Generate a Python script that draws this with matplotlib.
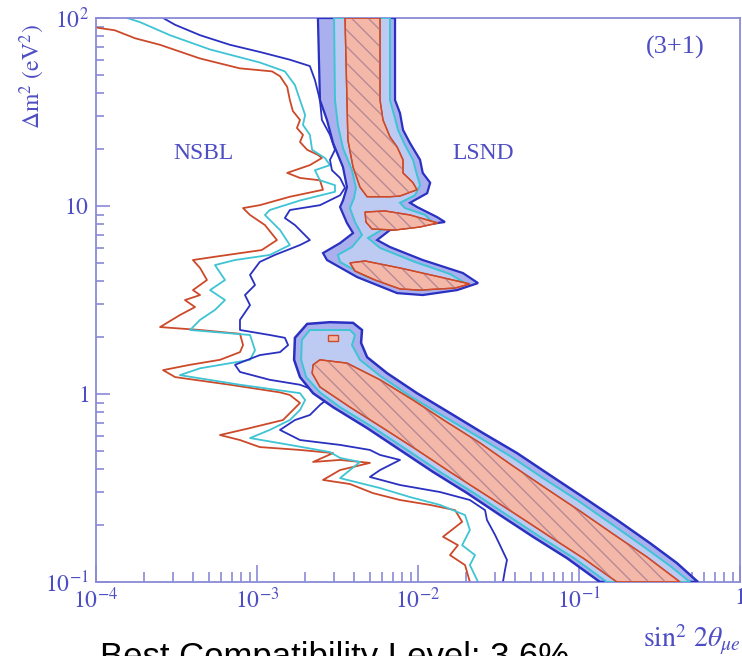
import matplotlib.pyplot as plt
from matplotlib.ticker import FixedLocator, FixedFormatter, LogLocator, NullFormatter

plt.rcParams['mathtext.fontset'] = 'stix'
plt.rcParams['font.family'] = ['Liberation Serif', 'DejaVu Serif']
plt.rcParams['hatch.linewidth'] = 1.0

# ---- NSBL exclusion curves (sin^2 2theta, dm^2 in eV^2) ----
nsbl_red_x = [1.0e-4, 1.31e-4, 1.75e-4, 2.5e-4, 4.4e-4, 7.8e-4, 1.24e-3, 1.39e-3, 1.54e-3, 1.60e-3,
              1.67e-3, 1.85e-3, 1.77e-3, 1.93e-3, 1.85e-3, 2.05e-3, 2.39e-3, 2.53e-3, 2.13e-3, 1.54e-3,
              1.85e-3, 2.46e-3, 2.57e-3, 1.60e-3, 1.04e-3, 8.19e-4, 9.05e-4, 1.12e-3, 1.33e-3, 1.07e-3,
              5.89e-4, 4.0e-4, 4.43e-4, 4.89e-4, 4.0e-4, 4.43e-4, 3.57e-4, 4.12e-4, 3.32e-4, 2.5e-4,
              4.43e-4, 7.84e-4, 8.19e-4, 7.84e-4, 5.89e-4, 3.84e-4, 2.61e-4, 3.10e-4, 6.80e-4, 1.39e-3,
              1.60e-3, 1.85e-3, 1.45e-3, 9.05e-4, 5.89e-4, 7.84e-4, 1.04e-3, 1.85e-3, 2.97e-3, 2.23e-3,
              3.28e-3, 5.03e-3, 3.28e-3, 2.57e-3, 3.78e-3, 5.25e-3, 7.73e-3, 1.19e-2, 1.70e-2, 1.88e-2,
              1.43e-2, 1.77e-2, 1.58e-2, 1.96e-2, 2.10e-2]
nsbl_red_y = [89, 86, 78, 72, 61, 54, 52, 49, 43, 36.6,
              32, 28.7, 26, 23.9, 21.9, 19.9, 18.7, 18.0, 16.5, 15.0,
              14.1, 13.7, 12.2, 11.2, 10.1, 9.75, 8.96, 7.92, 6.59, 5.83,
              5.42, 5.16, 4.68, 4.04, 3.57, 3.36, 3.16, 2.90, 2.63, 2.27,
              2.19, 2.09, 1.82, 1.67, 1.52, 1.43, 1.34, 1.23, 1.12, 1.02,
              0.988, 0.896, 0.727, 0.659, 0.605, 0.569, 0.522, 0.504, 0.485, 0.435,
              0.446, 0.430, 0.394, 0.349, 0.332, 0.297, 0.273, 0.257, 0.241, 0.209,
              0.174, 0.157, 0.139, 0.123, 0.1]

nsbl_cyan_x = [1.56e-4, 1.88e-4, 2.88e-4, 5.11e-4, 1.04e-3, 1.49e-3, 1.72e-3, 1.85e-3, 1.99e-3, 1.93e-3,
               2.13e-3, 2.20e-3, 2.64e-3, 2.84e-3, 2.29e-3, 2.46e-3, 3.05e-3, 3.05e-3, 1.85e-3, 1.20e-3,
               1.12e-3, 1.39e-3, 1.60e-3, 1.20e-3, 7.30e-4, 5.48e-4, 6.33e-4, 5.11e-4, 6.33e-4, 5.48e-4,
               4.43e-4, 3.84e-4, 9.05e-4, 9.72e-4, 9.05e-4, 4.43e-4, 3.32e-4, 7.84e-4, 1.85e-3, 1.99e-3,
               1.85e-3, 1.60e-3, 1.20e-3, 9.05e-4, 1.60e-3, 2.84e-3, 3.28e-3, 4.36e-3, 3.78e-3, 3.28e-3,
               5.81e-3, 8.92e-3, 1.37e-2, 1.96e-2, 2.10e-2, 1.88e-2, 2.26e-2, 2.10e-2, 2.36e-2]
nsbl_cyan_y = [100, 95, 81, 68, 58, 52, 44, 36.6, 30.5, 27,
               23.9, 19.9, 18.0, 16.5, 15.5, 13.7, 12.9, 11.9, 10.7, 9.52,
               8.96, 7.45, 6.20, 5.49, 5.16, 4.85, 4.04, 3.57, 3.16, 2.80,
               2.48, 2.19, 2.06, 1.71, 1.52, 1.37, 1.26, 1.12, 1.01, 0.929,
               0.822, 0.727, 0.644, 0.583, 0.536, 0.491, 0.457, 0.435, 0.394, 0.357,
               0.316, 0.283, 0.257, 0.227, 0.189, 0.157, 0.139, 0.123, 0.1]

nsbl_blue_x = [2.61e-4, 3.10e-4, 4.43e-4, 6.80e-4, 1.04e-3, 1.60e-3, 2.13e-3, 2.29e-3, 2.46e-3, 2.53e-3,
               2.84e-3, 3.05e-3, 2.84e-3, 2.92e-3, 3.28e-3, 3.52e-3, 3.28e-3, 2.46e-3, 1.60e-3, 1.49e-3,
               1.72e-3, 2.13e-3, 1.85e-3, 1.29e-3, 1.04e-3, 9.05e-4, 9.72e-4, 8.42e-4, 9.05e-4, 7.84e-4,
               7.84e-4, 1.20e-3, 1.49e-3, 1.56e-3, 1.39e-3, 1.04e-3, 7.30e-4, 7.84e-4, 1.20e-3, 1.85e-3,
               2.46e-3, 2.84e-3, 2.46e-3, 2.13e-3, 1.72e-3, 1.39e-3, 1.85e-3, 3.28e-3, 5.03e-3, 5.81e-3,
               7.73e-3, 5.81e-3, 5.03e-3, 7.73e-3, 1.37e-2, 2.10e-2, 2.61e-2, 2.68e-2, 3.01e-2, 3.23e-2,
               3.57e-2, 3.47e-2, 3.37e-2]
nsbl_blue_y = [100, 92, 81, 72, 66, 60, 55.5, 46.8, 36.6, 28.7,
               23.9, 19.9, 17.6, 15.5, 14.1, 12.5, 11.4, 10.1, 9.52, 8.63,
               7.92, 6.59, 6.20, 5.49, 5.04, 4.30, 3.80, 3.36, 2.97, 2.48,
               2.19, 2.06, 1.99, 1.82, 1.67, 1.61, 1.43, 1.31, 1.19, 1.12,
               1.02, 0.964, 0.874, 0.773, 0.727, 0.644, 0.569, 0.536, 0.504, 0.474,
               0.446, 0.394, 0.362, 0.328, 0.301, 0.273, 0.241, 0.214, 0.178, 0.157,
               0.131, 0.116, 0.1]

# ---- LSND allowed regions, upper island (dm^2 > 3 eV^2) ----
lsnd_hi_blue_x = [2.39e-3, 7.20e-3, 7.20e-3, 7.73e-3, 8.07e-3, 8.92e-3, 1.03e-2, 1.07e-2, 1.19e-2, 1.14e-2,
                  8.92e-3, 9.86e-3, 1.31e-2, 1.47e-2, 1.07e-2, 6.70e-3, 5.57e-3, 6.70e-3, 1.07e-2, 1.90e-2,
                  2.36e-2, 1.75e-2, 1.07e-2, 7.42e-3, 4.18e-3, 2.72e-3, 2.57e-3, 3.28e-3, 3.95e-3, 3.62e-3,
                  3.28e-3, 3.42e-3, 3.62e-3, 3.42e-3, 2.97e-3, 2.72e-3, 2.46e-3]
lsnd_hi_blue_y = [100, 100, 36.6, 31.2, 25.4, 21.6, 17.6, 15.0, 13.3, 11.7,
                  10.4, 9.88, 8.74, 8.22, 7.92, 7.45, 6.59, 6.05, 5.16, 4.40,
                  3.89, 3.57, 3.36, 3.44, 4.19, 5.16, 5.62, 6.35, 7.18, 8.12,
                  9.88, 10.7, 12.6, 16.1, 21.6, 28.7, 36.6]

lsnd_hi_cyan_x = [3.01e-3, 6.70e-3, 6.70e-3, 7.10e-3, 7.51e-3, 8.30e-3, 9.31e-3, 9.86e-3, 1.03e-2, 9.57e-3,
                  7.73e-3, 8.30e-3, 1.11e-2, 1.22e-2, 8.92e-3, 6.24e-3, 4.89e-3, 5.81e-3, 9.57e-3, 1.58e-2,
                  1.96e-2, 1.58e-2, 1.03e-2, 7.73e-3, 4.69e-3, 3.28e-3, 3.18e-3, 3.89e-3, 4.49e-3, 4.06e-3,
                  3.78e-3, 4.0e-3, 4.12e-3, 3.89e-3, 3.42e-3, 3.18e-3, 3.05e-3]
lsnd_hi_cyan_y = [100, 100, 36.6, 30.5, 25.4, 21.1, 17.6, 14.6, 12.9, 11.4,
                  10.4, 9.75, 8.96, 8.22, 7.83, 7.64, 6.76, 5.98, 5.04, 4.35,
                  3.89, 3.70, 3.57, 3.66, 4.24, 5.04, 5.49, 6.05, 7.01, 8.22,
                  9.75, 11.0, 12.5, 15.5, 20.3, 27.0, 36.6]

lsnd_hi_red_x = [3.52e-3, 5.81e-3, 5.81e-3, 6.06e-3, 6.70e-3, 7.42e-3, 8.07e-3, 8.07e-3, 9.31e-3, 9.86e-3,
                 7.73e-3, 6.70e-3, 4.83e-3, 4.36e-3, 3.95e-3, 3.67e-3, 3.62e-3]
lsnd_hi_red_y = [100, 100, 36.6, 28.7, 23.3, 20.6, 17.6, 15.0, 13.3, 12.2,
                 11.3, 11.2, 11.2, 12.6, 16.1, 22.4, 36.6]

lsnd_lobe2_x = [4.69e-3, 6.24e-3, 8.92e-3, 1.33e-2, 1.03e-2, 7.20e-3, 5.18e-3, 4.75e-3]
lsnd_lobe2_y = [9.29, 9.41, 8.96, 8.12, 7.73, 7.45, 7.54, 8.22]

lsnd_lobe3_x = [3.78e-3, 4.69e-3, 7.73e-3, 1.37e-2, 2.10e-2, 1.70e-2, 1.03e-2, 7.73e-3, 5.41e-3, 4.06e-3]
lsnd_lobe3_y = [4.98, 5.10, 4.68, 4.19, 3.85, 3.66, 3.57, 3.62, 4.04, 4.51]

# ---- LSND allowed regions, lower band (dm^2 < 2.5 eV^2) ----
lsnd_lo_blue_x = [2.05e-3, 2.84e-3, 3.95e-3, 4.49e-3, 4.43e-3, 4.83e-3, 6.43e-3, 9.86e-3, 1.58e-2, 2.53e-2,
                  4.12e-2, 6.61e-2, 1.06e-1, 1.72e-1, 2.76e-1, 4.06e-1, 5.48e-1, 1.35e-1, 8.42e-2, 5.18e-2,
                  3.23e-2, 2.02e-2, 1.24e-2, 7.73e-3, 4.83e-3, 2.97e-3, 2.23e-3, 1.85e-3, 1.70e-3, 1.72e-3]
lsnd_lo_blue_y = [2.36, 2.41, 2.39, 2.19, 1.87, 1.57, 1.29, 1.01, 0.792, 0.620,
                  0.485, 0.370, 0.283, 0.214, 0.161, 0.126, 0.1, 0.1, 0.134, 0.174,
                  0.227, 0.297, 0.385, 0.504, 0.659, 0.851, 1.01, 1.23, 1.52, 1.99]

lsnd_lo_cyan_x = [2.13e-3, 3.78e-3, 4.06e-3, 3.89e-3, 4.36e-3, 5.81e-3, 8.92e-3, 1.43e-2, 2.32e-2, 3.73e-2,
                  5.98e-2, 9.72e-2, 1.56e-1, 2.50e-1, 3.67e-1, 4.89e-1, 1.49e-1, 9.31e-2, 5.72e-2, 3.57e-2,
                  2.23e-2, 1.37e-2, 8.56e-3, 5.33e-3, 3.28e-3, 2.46e-3, 2.02e-3, 1.88e-3, 1.90e-3]
lsnd_lo_cyan_y = [2.19, 2.19, 2.06, 1.82, 1.52, 1.25, 0.975, 0.764, 0.598, 0.468,
                  0.357, 0.273, 0.206, 0.155, 0.122, 0.1, 0.1, 0.134, 0.174, 0.227,
                  0.297, 0.385, 0.504, 0.659, 0.851, 1.02, 1.23, 1.52, 1.94]

lsnd_lo_red_x = [2.23e-3, 2.46e-3, 3.62e-3, 5.81e-3, 9.31e-3, 1.51e-2, 2.43e-2, 3.89e-2, 6.33e-2, 1.01e-1,
                 1.63e-1, 2.64e-1, 4.24e-1, 1.72e-1, 1.06e-1, 6.61e-2, 4.12e-2, 2.53e-2, 1.58e-2, 9.86e-3,
                 6.06e-3, 3.78e-3, 2.46e-3, 2.20e-3]
lsnd_lo_red_y = [1.43, 1.52, 1.46, 1.19, 0.929, 0.709, 0.549, 0.414, 0.312, 0.239,
                 0.180, 0.136, 0.1, 0.1, 0.134, 0.174, 0.227, 0.297, 0.385, 0.504,
                 0.659, 0.851, 1.09, 1.29]

lsnd_spot_x = [2.76e-3, 3.18e-3, 3.18e-3, 2.76e-3]
lsnd_spot_y = [2.06, 2.06, 1.91, 1.91]

x_ticks = [1e-4, 1e-3, 1e-2, 1e-1, 1]
x_tick_labels = [r'$10^{-4}$', r'$10^{-3}$', r'$10^{-2}$', r'$10^{-1}$', r'$1$']
y_ticks = [0.1, 1, 10, 100]
y_tick_labels = [r'$10^{-1}$', r'$1$', r'$10$', r'$10^{2}$']

dark_blue = '#2a30c0'
cyan = '#3ec4d4'
red_line = '#cc4a2a'
blue_fill = '#aab0ee'
cyan_fill = '#bdcbf3'
red_fill = '#f4b8a8'
hatch_col = '#b88896'
axis_col = '#8a8ad8'
text_col = '#4e4ec4'

fig = plt.figure(figsize=(7.42, 6.56), dpi=100)
ax = fig.add_axes([96 / 742, 1 - 582 / 656, 644 / 742, 564 / 656])
ax.set_xscale('log')
ax.set_yscale('log')


def region(xs, ys, face, edge, lw, z, hatch=None):
    ax.fill(xs, ys, facecolor=face, edgecolor=edge, linewidth=lw, zorder=z)
    if hatch:
        ax.fill(xs, ys, facecolor='none', edgecolor=hatch_col, linewidth=0, hatch=hatch, zorder=z + 0.1)
        ax.fill(xs, ys, facecolor='none', edgecolor=edge, linewidth=lw, zorder=z + 0.2)


# NSBL curves
ax.plot(nsbl_red_x, nsbl_red_y, color=red_line, lw=1.3, zorder=2)
ax.plot(nsbl_cyan_x, nsbl_cyan_y, color=cyan, lw=1.3, zorder=2)
ax.plot(nsbl_blue_x, nsbl_blue_y, color=dark_blue, lw=1.3, zorder=2)

# LSND upper island
region(lsnd_hi_blue_x, lsnd_hi_blue_y, blue_fill, dark_blue, 1.6, 3)
region(lsnd_hi_cyan_x, lsnd_hi_cyan_y, cyan_fill, cyan, 1.4, 4)
region(lsnd_hi_red_x, lsnd_hi_red_y, red_fill, red_line, 1.0, 5, hatch='\\\\')
region(lsnd_lobe2_x, lsnd_lobe2_y, red_fill, red_line, 1.0, 5, hatch='\\\\')
region(lsnd_lobe3_x, lsnd_lobe3_y, red_fill, red_line, 1.0, 5, hatch='\\\\')

# LSND lower band
region(lsnd_lo_blue_x, lsnd_lo_blue_y, blue_fill, dark_blue, 1.8, 3)
region(lsnd_lo_cyan_x, lsnd_lo_cyan_y, cyan_fill, cyan, 1.4, 4)
region(lsnd_lo_red_x, lsnd_lo_red_y, red_fill, red_line, 1.0, 5, hatch='\\\\')
region(lsnd_spot_x, lsnd_spot_y, red_fill, red_line, 1.0, 5)

ax.set_xlim(1e-4, 1)
ax.set_ylim(0.1, 100)

ax.xaxis.set_major_locator(FixedLocator(x_ticks))
ax.xaxis.set_major_formatter(FixedFormatter(x_tick_labels))
ax.yaxis.set_major_locator(FixedLocator(y_ticks))
ax.yaxis.set_major_formatter(FixedFormatter(y_tick_labels))
for a in (ax.xaxis, ax.yaxis):
    a.set_minor_locator(LogLocator(base=10, subs=range(2, 10)))
    a.set_minor_formatter(NullFormatter())

ax.tick_params(which='both', direction='in', colors=axis_col, labelcolor=text_col,
               labelsize=17, width=1.2, top=False, right=False)
ax.tick_params(axis='x', which='major', length=12, pad=4)
ax.tick_params(axis='x', which='minor', length=7)
ax.tick_params(axis='y', which='major', length=10, pad=5)
ax.tick_params(axis='y', which='minor', length=6)
for s in ax.spines.values():
    s.set_color(axis_col)
    s.set_linewidth(1.3)

ax.text(4.62e-4, 19.1, 'NSBL', color=text_col, fontsize=17, ha='center', va='center')
ax.text(2.53e-2, 19.1, 'LSND', color=text_col, fontsize=17, ha='center', va='center')
ax.text(3.95e-1, 70, '(3+1)', color=text_col, fontsize=19, ha='center', va='center')

fig.text(32 / 742, 1 - 77 / 656, r'$\Delta\mathrm{m}^2\ (\mathrm{eV}^2)$', color=text_col,
         fontsize=17, rotation=90, ha='center', va='center')
fig.text(643 / 742, 1 - 640 / 656, r'$\mathrm{sin}^2\ 2\theta_{\mu e}$', color=text_col,
         fontsize=20, ha='left', va='center')
fig.text(100 / 742, -0.0168, 'Best Compatibility Level: 3.6%', color='black',
         fontsize=25, family='Liberation Sans', ha='left', va='baseline')

fig.savefig('out.png', dpi=100)
